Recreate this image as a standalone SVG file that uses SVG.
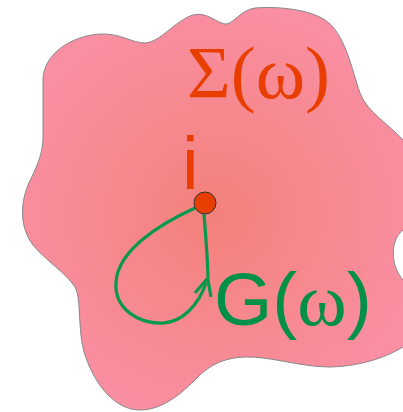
<svg xmlns="http://www.w3.org/2000/svg" width="403" height="412" viewBox="0 0 403 412">
<defs>
<radialGradient id="bg" gradientUnits="userSpaceOnUse" cx="215" cy="215" r="215">
<stop offset="0" stop-color="#f3817a"/>
<stop offset="1" stop-color="#fa8fa3"/>
</radialGradient>
</defs>
<style>
.lbl-red{fill:#e83e00}
.lbl-green{fill:#009048}
.sans{font-family:"Liberation Sans",Arial,sans-serif}
.serif{font-family:"Liberation Serif","Times New Roman",serif}
.loop{fill:none;stroke:#07994e;stroke-width:3.2;stroke-linecap:butt;stroke-linejoin:miter}
</style>
<g id="region">
<path d="M 43,80 C 43,55 70,36 100,34 C 120,33 132,43 145,43 C 160,42 172,24 190,16 C 205,10 215,22 225,24 C 233,25 240,10 255,8 C 280,6 310,10 325,20 C 345,33 352,70 360,93 C 367,112 390,125 403,140 L 420,150 L 420,222 L 403,230 C 390,240 390,265 403,280 L 420,290 L 420,340 L 403,347 C 390,355 365,366 330,367 C 300,367 270,356 245,357 C 222,358 210,366 200,375 C 185,390 165,410 140,410 C 115,410 95,385 85,355 C 77,330 82,300 75,287 C 65,272 45,260 33,245 C 20,228 20,205 28,185 C 36,168 43,155 43,137 Z" fill="url(#bg)" stroke="#888" stroke-width="1"/>
<text class="serif lbl-red" x="187" y="98" font-size="75">Σ(ω)</text>
</g>
<g id="connectors">
<path class="loop" d="M 195,208 C 160,224 118,250 116,282 C 114,310 140,324 163,323 C 182,322 198,306 206,283"/>
<path class="loop" d="M 204,214 C 206,240 208,262 208,280 L 211,297"/>
<path class="loop" d="M 195,293 L 207,279"/>
</g>
<g id="node-i">
<circle cx="205" cy="203" r="11" fill="#e83e00" stroke="#333" stroke-width="1"/>
<text class="sans lbl-red" x="182" y="189" font-size="75">i</text>
</g>
<g id="label-G">
<text class="sans lbl-green" x="214" y="325" font-size="75">G(<tspan class="serif">ω</tspan>)</text>
</g>
</svg>
